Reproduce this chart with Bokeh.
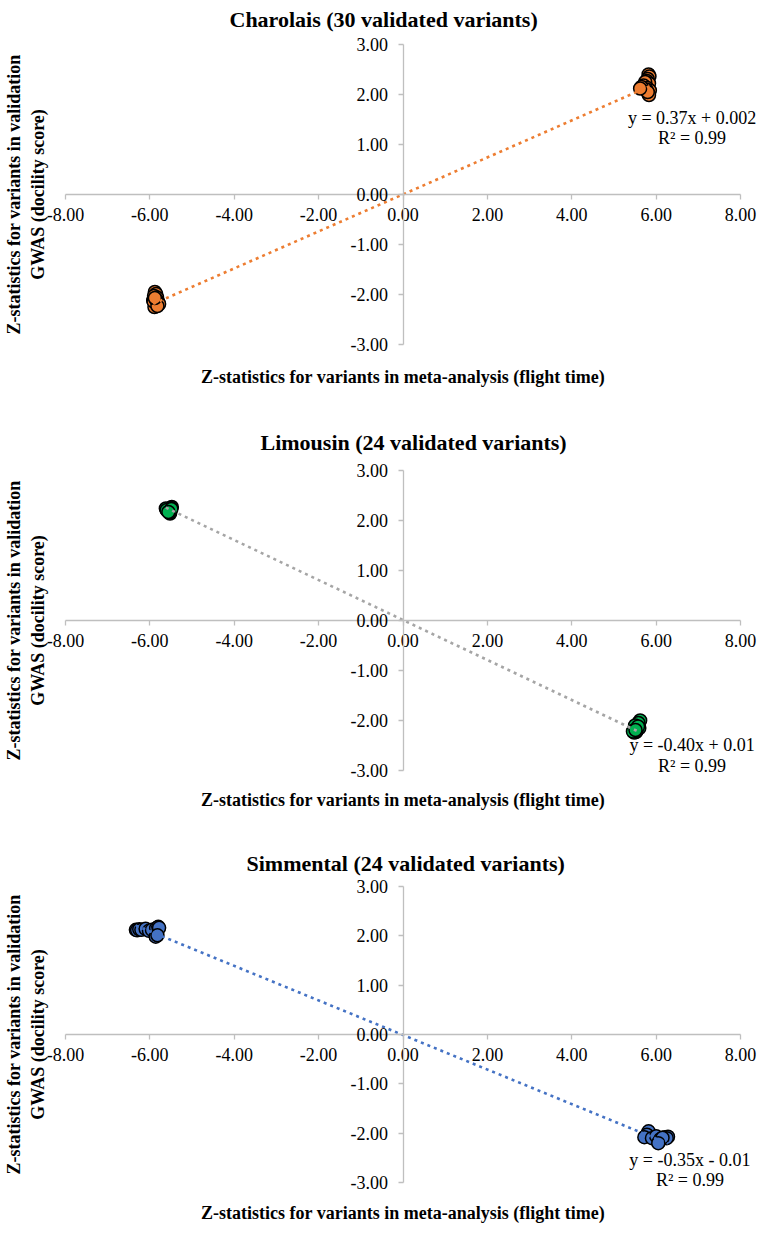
from bokeh.plotting import figure
from bokeh.layouts import column
from bokeh.models import LinearAxis, FixedTicker, PrintfTickFormatter, Range1d, Label
from bokeh.embed import file_html
from bokeh.resources import INLINE

# tick values shared by all three panels
x_ticks = [-8, -6, -4, -2, 0, 2, 4, 6, 8]
y_ticks = [-3, -2, -1, 0, 1, 2, 3]

# Charolais, 30 validated variants
char_x = [5.82, 5.84, 5.80, 5.78, 5.83, 5.74, 5.70, 5.79, 5.85, 5.81, 5.76, 5.65, 5.83, 5.80, 5.62,
          -5.88, -5.85, -5.90, -5.83, -5.86, -5.92, -5.80, -5.87, -5.84, -5.89, -5.78, -5.91, -5.86, -5.82, -5.88]
char_y = [2.40, 2.36, 2.31, 2.27, 2.22, 2.25, 2.18, 2.13, 2.08, 2.02, 2.10, 2.15, 1.99, 2.05, 2.12,
          -1.95, -1.99, -2.03, -2.06, -2.09, -2.12, -2.15, -2.18, -2.21, -2.25, -2.19, -2.14, -2.10, -2.23, -2.07]

# Limousin, 24 validated variants
limo_x = [-5.60, -5.48, -5.52, -5.58, -5.55, -5.62, -5.50, -5.57, -5.53, -5.60, -5.49, -5.56,
          5.62, 5.58, 5.50, 5.47, 5.52, 5.55, 5.60, 5.48, 5.53, 5.57, 5.45, 5.51]
limo_y = [2.22, 2.27, 2.14, 2.20, 2.18, 2.24, 2.25, 2.19, 2.16, 2.21, 2.23, 2.17,
          -2.00, -2.05, -2.10, -2.20, -2.23, -2.18, -2.15, -2.24, -2.21, -2.12, -2.22, -2.19]

# Simmental, 24 validated variants
simm_x = [-6.33, -6.30, -6.25, -6.20, -6.10, -6.02, -5.95, -5.85, -5.80, -5.78, -5.86, -5.82,
          5.82, 5.78, 5.72, 5.90, 6.00, 6.06, 6.10, 6.20, 6.28, 6.25, 6.15, 6.05]
simm_y = [2.12, 2.11, 2.13, 2.12, 2.14, 2.10, 2.12, 2.15, 2.18, 2.16, 1.98, 2.01,
          -1.96, -2.03, -2.08, -2.10, -2.06, -2.18, -2.12, -2.08, -2.07, -2.10, -2.09, -2.20]

titles = ["Charolais (30 validated variants)", "Limousin (24 validated variants)",
          "Simmental (24 validated variants)"]
slopes = [0.37, -0.40, -0.35]
intercepts = [0.002, 0.01, -0.01]
equations = ["y = 0.37x + 0.002", "y = -0.40x + 0.01", "y = -0.35x - 0.01"]
r_squared = ["R² = 0.99", "R² = 0.99", "R² = 0.99"]

FONT = "Liberation Serif"
AXIS_GREY = "#BFBFBF"


def make_panel(title, xs, ys, fill, trend_color, slope, intercept, eq, r2,
               eq_xy, r2_xy, height, top, bottom, standoff, offset, xlab_standoff):
    # ranges run a little past the axis bounds so the end tick labels are not clipped
    p = figure(width=762, height=height, output_backend="svg", toolbar_location=None,
               x_range=Range1d(-8.425, 8.425), y_range=Range1d(-3.2, 3.2), title=title,
               min_border_left=44, min_border_right=4, min_border_top=top,
               min_border_bottom=bottom)
    p.grid.visible = False
    p.outline_line_color = None

    p.title.text_font = FONT
    p.title.text_font_size = "22px"
    p.title.text_font_style = "bold"
    p.title.text_color = "black"
    p.title.align = "left"
    p.title.standoff = standoff
    p.title.offset = offset

    # axes crossing at the origin
    xa = p.xaxis[0]
    ya = p.yaxis[0]
    for ax, ticks in ((xa, x_ticks), (ya, y_ticks)):
        ax.fixed_location = 0
        ax.ticker = FixedTicker(ticks=ticks)
        ax.formatter = PrintfTickFormatter(format="%.2f")
        ax.minor_tick_line_color = None
        ax.major_tick_in = 0
        ax.major_tick_out = 5
        ax.axis_line_color = AXIS_GREY
        ax.axis_line_width = 1.3
        ax.major_tick_line_color = AXIS_GREY
        ax.major_tick_line_width = 1.3
        ax.major_label_text_font = FONT
        ax.major_label_text_font_size = "18px"
        ax.major_label_text_color = "black"
    xa.bounds = (-8, 8)
    ya.bounds = (-3, 3)
    xa.major_label_standoff = 8
    ya.major_label_standoff = 10

    # axis titles on the outer edges
    xlab = LinearAxis(ticker=FixedTicker(ticks=[]), axis_line_color=None,
                      major_tick_out=0, major_tick_in=0, minor_tick_out=0,
                      axis_label="Z-statistics for variants in meta-analysis (flight time)",
                      axis_label_standoff=xlab_standoff)
    ylab = LinearAxis(ticker=FixedTicker(ticks=[]), axis_line_color=None,
                      major_tick_out=0, major_tick_in=0, minor_tick_out=0,
                      axis_label="Z-statistics for variants in validation\nGWAS (docility score)",
                      axis_label_standoff=0)
    for ax in (xlab, ylab):
        ax.axis_label_text_font = FONT
        ax.axis_label_text_font_size = "18px"
        ax.axis_label_text_font_style = "bold"
        ax.axis_label_text_color = "black"
    p.add_layout(xlab, "below")
    p.add_layout(ylab, "left")

    p.scatter(xs, ys, size=13, fill_color=fill, line_color="black", line_width=1.5)

    x0, x1 = min(xs), max(xs)
    p.line([x0, x1], [slope * x0 + intercept, slope * x1 + intercept],
           line_color=trend_color, line_width=2.6, line_dash="3 4")

    for txt, (lx, ly) in ((eq, eq_xy), (r2, r2_xy)):
        p.add_layout(Label(x=lx, y=ly, text=txt, text_align="center", text_baseline="middle",
                           text_font=FONT, text_font_size="18px", text_color="black"))
    return p


p1 = make_panel(titles[0], char_x, char_y, "#ED7D31", "#ED7D31", slopes[0], intercepts[0],
                equations[0], r_squared[0], (6.85, 1.54), (6.85, 1.14),
                height=416, top=34, bottom=62, standoff=6, offset=182, xlab_standoff=12)
p2 = make_panel(titles[1], limo_x, limo_y, "#00B050", "#A5A5A5", slopes[1], intercepts[1],
                equations[1], r_squared[1], (6.85, -2.49), (6.85, -2.90),
                height=414, top=44, bottom=50, standoff=12, offset=213, xlab_standoff=9)
p3 = make_panel(titles[2], simm_x, simm_y, "#4472C4", "#4472C4", slopes[2], intercepts[2],
                equations[2], r_squared[2], (6.8, -2.54), (6.8, -2.95),
                height=395, top=46, bottom=33, standoff=2, offset=199, xlab_standoff=10)

layout = column(p1, p2, p3)
open("out.html", "w").write(file_html(layout, INLINE))
